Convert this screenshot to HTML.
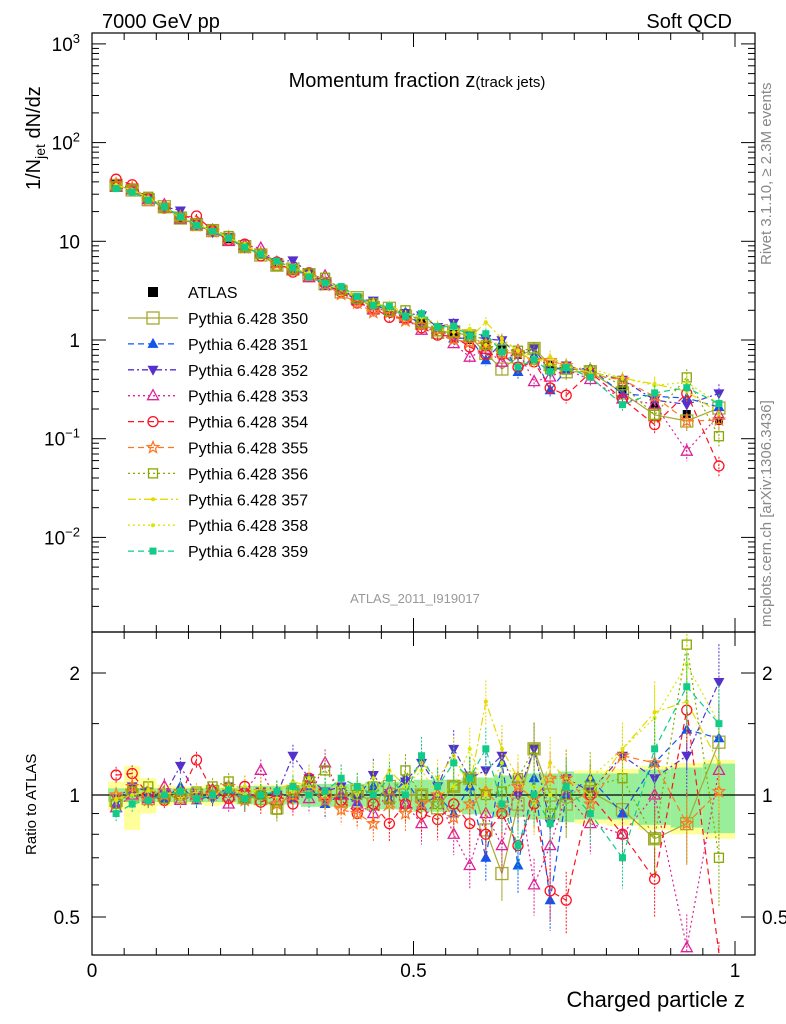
<!DOCTYPE html>
<html><head><meta charset="utf-8"><style>
body{margin:0;background:#fff;}
svg{display:block;font-family:"Liberation Sans",sans-serif;}
</style></head><body>
<svg id="c" width="786" height="1024" viewBox="0 0 786 1024" xmlns="http://www.w3.org/2000/svg">
<text x="102" y="28" font-size="20">7000 GeV pp</text>
<text x="732" y="28" font-size="20" text-anchor="end">Soft QCD</text>
<text x="417" y="87" font-size="20" text-anchor="middle">Momentum fraction z<tspan font-size="15">(track jets)</tspan></text>
<text x="415" y="603" font-size="13" fill="#999" text-anchor="middle">ATLAS_2011_I919017</text>
<text transform="translate(771,265) rotate(-90)" font-size="15" fill="#888">Rivet 3.1.10, ≥ 2.3M events</text>
<text transform="translate(771,627) rotate(-90)" font-size="15" fill="#888">mcplots.cern.ch [arXiv:1306.3436]</text>
<text transform="translate(40,190) rotate(-90)" font-size="20">1/N<tspan font-size="14" dy="5">jet</tspan><tspan dy="-5"> dN/dz</tspan></text>
<text transform="translate(36,855) rotate(-90)" font-size="15">Ratio to ATLAS</text>
<text x="745" y="1007" font-size="22" text-anchor="end">Charged particle z</text>
<g id="g"></g>
</svg>
<script>
const edges=[0.025,0.05,0.075,0.1,0.125,0.15,0.175,0.2,0.225,0.25,0.275,0.3,0.325,0.35,0.375,0.4,0.425,0.45,0.475,0.5,0.525,0.55,0.575,0.6,0.625,0.65,0.675,0.7,0.725,0.75,0.8,0.85,0.9,0.95,1.0];
const atlasLog=[1.58,1.52,1.43,1.35,1.24,1.17,1.10,1.02,0.95,0.87,0.79,0.71,0.64,0.57,0.50,0.42,0.35,0.30,0.24,0.17,0.11,0.06,0.0,-0.05,-0.10,-0.15,-0.2,-0.25,-0.3,-0.33,-0.5,-0.65,-0.75,-0.82];
const dataRelErr=[0.03,0.03,0.03,0.03,0.03,0.03,0.03,0.03,0.04,0.04,0.04,0.04,0.05,0.05,0.05,0.05,0.06,0.06,0.06,0.07,0.07,0.07,0.08,0.08,0.09,0.09,0.1,0.1,0.11,0.1,0.1,0.12,0.13,0.15];
const mcBand=[0.08,0.18,0.1,0.06,0.05,0.05,0.06,0.05,0.05,0.06,0.06,0.05,0.06,0.06,0.06,0.07,0.07,0.07,0.07,0.08,0.08,0.09,0.1,0.1,0.12,0.12,0.13,0.13,0.14,0.15,0.16,0.18,0.2,0.22];
const ratios=[
[0.97,1.0,0.98,1.0,0.99,1.0,1.02,1.0,0.99,0.98,0.93,1.02,1.05,1.0,0.97,1.02,0.95,1.05,1.0,1.0,0.93,1.05,1.1,0.82,0.64,0.95,1.3,1.0,0.95,1.02,0.92,0.78,0.85,1.35],
[0.95,1.02,1.0,0.98,1.05,0.97,1.0,1.03,0.98,1.0,1.02,0.98,1.05,0.95,1.0,0.96,1.05,0.97,1.1,0.94,1.0,0.9,1.05,0.7,1.2,0.67,1.1,0.55,1.0,1.1,0.9,1.2,1.45,1.38],
[0.98,1.05,1.02,1.0,1.18,1.0,0.98,1.05,0.97,1.02,1.0,1.25,1.1,1.02,1.05,0.98,1.12,1.0,1.08,1.2,1.05,1.3,1.1,1.15,1.25,1.0,1.3,0.85,1.1,1.02,1.25,1.1,1.25,1.9],
[0.93,1.0,0.98,1.05,0.97,1.0,1.03,0.95,1.02,1.15,0.97,1.0,0.98,1.2,1.0,0.95,0.9,1.02,0.95,0.85,1.0,0.8,0.67,0.9,0.75,1.1,0.6,0.75,1.0,0.85,0.8,1.0,0.42,1.15],
[1.12,1.13,1.0,0.97,1.0,1.22,1.02,0.98,1.05,0.96,1.0,0.95,1.1,1.0,0.97,0.9,0.95,0.85,0.95,0.9,0.87,0.95,0.85,0.8,0.9,0.75,0.95,0.58,0.55,1.0,0.8,0.62,1.62,0.35],
[1.0,1.05,0.97,1.0,1.02,0.98,1.0,1.05,0.97,1.02,0.95,1.0,1.03,0.97,0.92,0.9,0.85,0.95,0.9,0.95,1.0,0.88,0.95,1.02,0.93,1.05,0.98,1.1,1.1,0.95,1.25,1.2,0.85,1.02],
[0.95,1.02,1.05,0.98,1.0,1.02,1.05,1.08,0.98,1.0,0.92,1.02,1.08,1.15,1.02,1.0,1.05,0.98,1.15,1.0,0.95,1.05,1.1,1.0,1.02,1.1,1.3,0.9,1.0,1.05,1.1,0.78,2.35,0.7],
[0.98,1.0,1.03,1.02,0.98,1.02,1.0,1.05,1.0,1.04,1.02,1.08,1.05,1.0,1.1,1.05,1.0,1.15,1.05,1.2,1.1,1.25,1.05,1.7,1.3,1.1,0.95,1.2,1.1,1.0,1.3,1.6,1.7,1.2],
[0.97,1.0,1.02,1.0,1.03,0.98,1.0,1.02,1.05,1.0,0.98,1.02,1.1,1.0,1.05,1.0,1.1,1.02,1.05,1.15,1.0,1.05,1.3,1.0,1.2,1.1,1.05,1.0,1.05,1.1,1.3,1.55,2.1,1.5],
[0.9,0.95,0.97,1.0,1.02,0.98,1.0,1.03,0.98,1.0,1.02,1.05,1.0,1.02,1.1,1.05,1.0,1.1,1.0,1.25,1.05,1.2,1.1,1.3,0.95,0.75,1.0,0.85,1.05,0.9,0.7,1.3,1.85,1.5]];
const colors=["#a8a830","#1155ee","#5530cc","#dd2299","#ff1122","#ff7722","#88a800","#e8d800","#d8e800","#11cc88"];
const dashes=["","6,4","6,3,2,3","2,3","6,4","6,4","2,3","8,3,2,3","2,3","6,4"];
const markers=["bigsq","tri","tridown","otri","ocirc","star","osq","dot","dot","fsq"];
const names=["350","351","352","353","354","355","356","357","358","359"];

const NS="http://www.w3.org/2000/svg";
const g=document.getElementById('g');
const X0=92,X1=735;
const xs=z=>X0+z*(X1-X0);
const ym=v=>340-Math.log10(v)*98.7;
const yr=r=>795-Math.log2(r)*122;
const clampR=y=>Math.max(634,Math.min(953,y));
const clampM=y=>Math.max(34,Math.min(630,y));
function el(t,a,p){const e=document.createElementNS(NS,t);for(const k in a)e.setAttribute(k,a[k]);(p||g).appendChild(e);return e;}
const centers=[];for(let i=0;i<edges.length-1;i++)centers.push((edges[i]+edges[i+1])/2);
const atlas=atlasLog.map(v=>Math.pow(10,v));

let bandsG=el('g',{});


for(let i=0;i<centers.length;i++){
  const x1=xs(edges[i]),x2=xs(edges[i+1]);
  let b=mcBand[i];
  let r=el('rect',{x:x1,y:yr(1+b),width:x2-x1,height:yr(1-b)-yr(1+b),fill:'#ffff99'},bandsG);
  
  
  let e=dataRelErr[i]*1.3;
  let r2=el('rect',{x:x1,y:yr(1+e),width:x2-x1,height:yr(1-e)-yr(1+e),fill:'#99ee99'},bandsG);
  
  
}
el('line',{x1:X0,x2:755,y1:yr(1),y2:yr(1),stroke:'#000','stroke-width':1.2});

function marker(par,m,x,y,c){
  let e;
  if(m==='bigsq')e=el('rect',{x:x-6,y:y-6,width:12,height:12,fill:'none',stroke:c,'stroke-width':1.3},par);
  else if(m==='osq')e=el('rect',{x:x-4.5,y:y-4.5,width:9,height:9,fill:'none',stroke:c,'stroke-width':1.3},par);
  else if(m==='fsq')e=el('rect',{x:x-3.5,y:y-3.5,width:7,height:7,fill:c},par);
  else if(m==='tri')e=el('polygon',{points:`${x},${y-6} ${x-5.5},${y+4} ${x+5.5},${y+4}`,fill:c},par);
  else if(m==='tridown')e=el('polygon',{points:`${x},${y+6} ${x-5.5},${y-4} ${x+5.5},${y-4}`,fill:c},par);
  else if(m==='otri')e=el('polygon',{points:`${x},${y-6} ${x-5.5},${y+4} ${x+5.5},${y+4}`,fill:'none',stroke:c,'stroke-width':1.3},par);
  else if(m==='ocirc')e=el('circle',{cx:x,cy:y,r:5,fill:'none',stroke:c,'stroke-width':1.3},par);
  else if(m==='star'){let p=[];for(let k=0;k<10;k++){let a=-Math.PI/2+k*Math.PI/5,rr=k%2?2.6:6;p.push((x+rr*Math.cos(a)).toFixed(1)+','+(y+rr*Math.sin(a)).toFixed(1));}e=el('polygon',{points:p.join(' '),fill:'none',stroke:c,'stroke-width':1.3},par);}
  else e=el('circle',{cx:x,cy:y,r:2,fill:c},par);
  
  
}

// ATLAS data (drawn first, under MC)
let ag=el('g',{});


atlas.forEach((v,i)=>{
  const x=xs(centers[i]);
  let p=el('rect',{x:x-4,y:ym(v)-4,width:8,height:8,fill:'#000'},ag);
  
  
});

ratios.forEach((rs,s)=>{
  const c=colors[s];
  let sg=el('g',{});
  
  
  let pm=[],pr=[];
  rs.slice(0,centers.length).forEach((r,i)=>{
    const x=xs(centers[i]);const v=atlas[i]*r;
    const e=dataRelErr[i]*1.6;
    pm.push(x+','+clampM(ym(v)));pr.push(x+','+clampR(yr(r)));
    el('line',{x1:x,x2:x,y1:clampM(ym(v*(1+e))),y2:clampM(ym(v*(1-e))),stroke:c,'stroke-width':1,'stroke-dasharray':dashes[s]?'2,1.5':''},sg);
    el('line',{x1:x,x2:x,y1:clampR(yr(r*(1+e))),y2:clampR(yr(r*(1-e))),stroke:c,'stroke-width':1,'stroke-dasharray':dashes[s]?'2,1.5':''},sg);
  });
  el('polyline',{points:pm.join(' '),fill:'none',stroke:c,'stroke-width':1.2,'stroke-dasharray':dashes[s]},sg);
  el('polyline',{points:pr.join(' '),fill:'none',stroke:c,'stroke-width':1.2,'stroke-dasharray':dashes[s]},sg);
  rs.slice(0,centers.length).forEach((r,i)=>{
    const x=xs(centers[i]);
    marker(sg,markers[s],x,clampM(ym(atlas[i]*r)),c);
    const yR=yr(r); if(yR>634&&yR<953)marker(sg,markers[s],x,yR,c);
  });
});

el('rect',{x:X0,y:33,width:755-X0,height:599,fill:'none',stroke:'#000','stroke-width':1.2});
el('rect',{x:X0,y:632,width:755-X0,height:323,fill:'none',stroke:'#000','stroke-width':1.2});

const decLabels=[["10","3"],["10","2"],["10",""],["1",""],["10","−1"],["10","−2"]];
const decVals=[1000,100,10,1,0.1,0.01];
decVals.forEach((v,k)=>{
  const y=ym(v);
  el('line',{x1:X0,x2:X0+14,y1:y,y2:y,stroke:'#000'});el('line',{x1:755-14,x2:755,y1:y,y2:y,stroke:'#000'});
  for(let m=2;m<10;m++){const y2=ym(v/10*m);if(y2<632&&y2>33){el('line',{x1:X0,x2:X0+7,y1:y2,y2:y2,stroke:'#000'});el('line',{x1:748,x2:755,y1:y2,y2:y2,stroke:'#000'});}}
  let t=el('text',{x:80,y:y+7,'font-size':19,'text-anchor':'end'});
  
  
  if(decLabels[k][1]){t.textContent=decLabels[k][0];let ts=el('tspan',{dy:-8,'font-size':13},t);ts.textContent=decLabels[k][1];}
  else t.textContent=decLabels[k][0];
});
for(let m=2;m<10;m++){const y2=ym(1000*m);if(y2>33){el('line',{x1:X0,x2:X0+7,y1:y2,y2:y2,stroke:'#000'});el('line',{x1:748,x2:755,y1:y2,y2:y2,stroke:'#000'});}}

const rTicks=[2,1,0.5],rLabels=["2","1","0.5"];
rTicks.forEach((r,k)=>{
  const y=yr(r);
  el('line',{x1:X0,x2:X0+14,y1:y,y2:y,stroke:'#000'});el('line',{x1:741,x2:755,y1:y,y2:y,stroke:'#000'});
  let t=el('text',{x:80,y:y+7,'font-size':19,'text-anchor':'end'});t.textContent=rLabels[k];
  
  
  let t2=el('text',{x:762,y:y+7,'font-size':19});t2.textContent=rLabels[k];
  
  
});
[0.6,0.7,0.8,0.9,1.5].forEach(r=>{const y=yr(r);el('line',{x1:X0,x2:X0+7,y1:y,y2:y,stroke:'#000'});el('line',{x1:748,x2:755,y1:y,y2:y,stroke:'#000'});});

const xTicks=[0,0.5,1],xLabels=["0","0.5","1"];
for(let k=0;k<=20;k++){const z=k*0.05,x=xs(z),L=k%10==0?14:7;
  el('line',{x1:x,x2:x,y1:955,y2:955-L,stroke:'#000'});el('line',{x1:x,x2:x,y1:632,y2:632+L,stroke:'#000'});
  el('line',{x1:x,x2:x,y1:632,y2:632-L,stroke:'#000'});el('line',{x1:x,x2:x,y1:33,y2:33+L,stroke:'#000'});}
xTicks.forEach((z,k)=>{let t=el('text',{x:xs(z),y:977,'font-size':19,'text-anchor':'middle'});t.textContent=xLabels[k];
  
  });

let lg=el('g',{});


let ly=292;
let a=el('rect',{x:148,y:ly-5,width:10,height:10,fill:'#000'},lg);


let at=el('text',{x:188,y:ly+6,'font-size':16},lg);at.textContent='ATLAS';


names.forEach((n,s)=>{
  const y=318+s*25.9;
  el('line',{x1:128,x2:178,y1:y,y2:y,stroke:colors[s],'stroke-width':1.3,'stroke-dasharray':dashes[s]},lg);
  marker(lg,markers[s],153,y,colors[s]);
  let t=el('text',{x:188,y:y+6,'font-size':16},lg);t.textContent='Pythia 6.428 '+n;
  
  
});
</script>
</body></html>
